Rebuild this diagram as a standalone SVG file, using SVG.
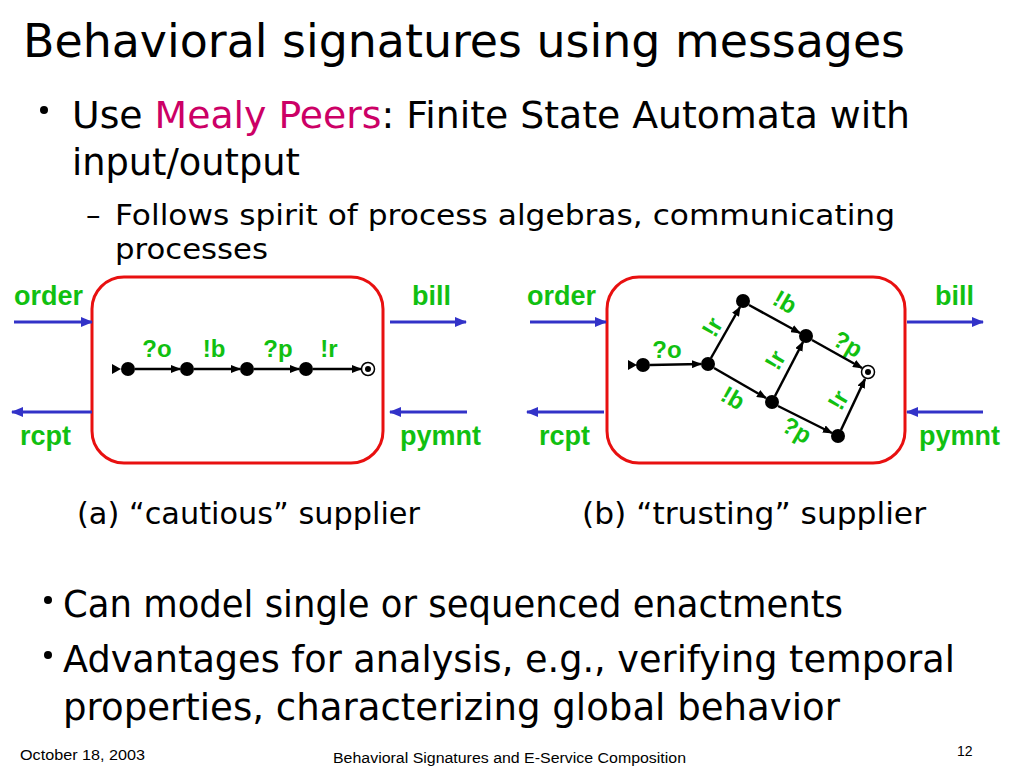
<svg xmlns="http://www.w3.org/2000/svg" width="1024" height="768" viewBox="0 0 1024 768">
<defs>
<style>
.body{font-family:"DejaVu Sans","Noto Sans",sans-serif;fill:#000}
.lbl{font-family:"Liberation Sans",Arial,sans-serif;font-weight:bold;fill:#11c011}
.st{font-family:"Liberation Sans",Arial,sans-serif;font-weight:bold;fill:#11c011;font-size:24px}
.box{fill:#fff;stroke:#e81010;stroke-width:3}
.io{stroke:#3232c8;stroke-width:3;fill:none}
.edge{stroke:#000;stroke-width:2.5;fill:none}
.foot{font-family:"Liberation Sans",Arial,sans-serif;font-size:14px;fill:#000}
</style>
<marker id="ah" markerWidth="10" markerHeight="8" refX="9" refY="4" orient="auto" markerUnits="userSpaceOnUse">
<path d="M0,0 L10,4 L0,8 Z" fill="#000"/>
</marker>
<marker id="bh" markerWidth="12" markerHeight="10" refX="11" refY="5" orient="auto" markerUnits="userSpaceOnUse">
<path d="M0,0 L12,5 L0,10 Z" fill="#3232c8"/>
</marker>
</defs>
<rect width="1024" height="768" fill="#fff"/>

<g id="text">
<text class="body" x="23" y="57" font-size="46" textLength="882" lengthAdjust="spacingAndGlyphs">Behavioral signatures using messages</text>
<circle cx="44" cy="110" r="4" fill="#000"/>
<text class="body" x="72" y="128" font-size="38" textLength="838" lengthAdjust="spacingAndGlyphs">Use <tspan fill="#cc0066">Mealy Peers</tspan>: Finite State Automata with</text>
<text class="body" x="72" y="175" font-size="38" textLength="228" lengthAdjust="spacingAndGlyphs">input/output</text>
<text class="body" x="86" y="225" font-size="29">–</text>
<text class="body" x="115" y="225" font-size="29" textLength="780" lengthAdjust="spacingAndGlyphs">Follows spirit of process algebras, communicating</text>
<text class="body" x="115" y="259" font-size="29" textLength="153" lengthAdjust="spacingAndGlyphs">processes</text>
<text class="body" x="77" y="524" font-size="31" textLength="343" lengthAdjust="spacingAndGlyphs">(a) “cautious” supplier</text>
<text class="body" x="582" y="524" font-size="31" textLength="344" lengthAdjust="spacingAndGlyphs">(b) “trusting” supplier</text>
<circle cx="48" cy="600" r="4" fill="#000"/>
<text class="body" x="63" y="617" font-size="38" textLength="780" lengthAdjust="spacingAndGlyphs">Can model single or sequenced enactments</text>
<circle cx="48" cy="655" r="4" fill="#000"/>
<text class="body" x="63" y="672" font-size="38" textLength="892" lengthAdjust="spacingAndGlyphs">Advantages for analysis, e.g., verifying temporal</text>
<text class="body" x="63" y="720" font-size="38" textLength="777" lengthAdjust="spacingAndGlyphs">properties, characterizing global behavior</text>
<text class="foot" x="20" y="760" textLength="125" lengthAdjust="spacingAndGlyphs">October 18, 2003</text>
<text class="foot" x="333" y="763" font-size="15" textLength="353" lengthAdjust="spacingAndGlyphs">Behavioral Signatures and E-Service Composition</text>
<text class="foot" x="957" y="756">12</text>
</g>

<g id="cautious">
<rect class="box" x="92" y="277" width="291" height="186" rx="32"/>
<text class="lbl" x="14" y="305" font-size="27">order</text>
<text class="lbl" x="412" y="305" font-size="27">bill</text>
<text class="lbl" x="20" y="445" font-size="27">rcpt</text>
<text class="lbl" x="400" y="445" font-size="27">pymnt</text>
<path d="M112,364 L121,369 L112,374 Z" fill="#000"/>
<circle cx="128" cy="369" r="7" fill="#000"/>
<circle cx="187" cy="369" r="7" fill="#000"/>
<circle cx="247" cy="369" r="7" fill="#000"/>
<circle cx="306" cy="369" r="7" fill="#000"/>
<circle cx="368" cy="369" r="6.5" fill="#fff" stroke="#000" stroke-width="1.5"/>
<circle cx="368" cy="369" r="3" fill="#000"/>
<text class="st" x="157" y="357" text-anchor="middle">?o</text>
<text class="st" x="214" y="357" text-anchor="middle">!b</text>
<text class="st" x="278" y="357" text-anchor="middle">?p</text>
<text class="st" x="329" y="357" text-anchor="middle">!r</text>
</g>

<g id="trusting">
<rect class="box" x="607" y="277" width="298" height="186" rx="32"/>
<text class="lbl" x="527" y="305" font-size="27">order</text>
<text class="lbl" x="935" y="305" font-size="27">bill</text>
<text class="lbl" x="539" y="445" font-size="27">rcpt</text>
<text class="lbl" x="919" y="445" font-size="27">pymnt</text>
<path d="M628,360 L637,365 L628,370 Z" fill="#000"/>
<circle cx="643" cy="365" r="7" fill="#000"/>
<circle cx="708" cy="364" r="7" fill="#000"/>
<circle cx="743" cy="301" r="7" fill="#000"/>
<circle cx="806" cy="336" r="7" fill="#000"/>
<circle cx="772" cy="402" r="7" fill="#000"/>
<circle cx="838" cy="436" r="7" fill="#000"/>
<circle cx="868" cy="372" r="6.5" fill="#fff" stroke="#000" stroke-width="1.5"/>
<circle cx="868" cy="372" r="3" fill="#000"/>
<text class="st" x="667" y="358" text-anchor="middle">?o</text>
<text class="st" text-anchor="middle" dy="0.35em" transform="translate(712,327) rotate(-60)">!r</text>
<text class="st" text-anchor="middle" dy="0.35em" transform="translate(785,302) rotate(30)">!b</text>
<text class="st" text-anchor="middle" dy="0.35em" transform="translate(848,344) rotate(30)">?p</text>
<text class="st" text-anchor="middle" dy="0.35em" transform="translate(775,360) rotate(-60)">!r</text>
<text class="st" text-anchor="middle" dy="0.35em" transform="translate(733,398) rotate(30)">!b</text>
<text class="st" text-anchor="middle" dy="0.35em" transform="translate(797,430) rotate(30)">?p</text>
<text class="st" text-anchor="middle" dy="0.35em" transform="translate(838,400) rotate(-60)">!r</text>
</g>

<g id="connectors">
<line class="io" x1="14" y1="322" x2="92" y2="322" marker-end="url(#bh)"/>
<line class="io" x1="390" y1="322" x2="466" y2="322" marker-end="url(#bh)"/>
<line class="io" x1="92" y1="412" x2="12" y2="412" marker-end="url(#bh)"/>
<line class="io" x1="467" y1="412" x2="390" y2="412" marker-end="url(#bh)"/>
<line class="io" x1="530" y1="322" x2="606" y2="322" marker-end="url(#bh)"/>
<line class="io" x1="907" y1="322" x2="983" y2="322" marker-end="url(#bh)"/>
<line class="io" x1="604" y1="412" x2="527" y2="412" marker-end="url(#bh)"/>
<line class="io" x1="983" y1="412" x2="907" y2="412" marker-end="url(#bh)"/>

<line class="edge" x1="135" y1="369" x2="180" y2="369" marker-end="url(#ah)"/>
<line class="edge" x1="194" y1="369" x2="240" y2="369" marker-end="url(#ah)"/>
<line class="edge" x1="254" y1="369" x2="299" y2="369" marker-end="url(#ah)"/>
<line class="edge" x1="313" y1="369" x2="361" y2="369" marker-end="url(#ah)"/>

<line class="edge" x1="650" y1="365" x2="701" y2="364" marker-end="url(#ah)"/>
<line class="edge" x1="711" y1="358" x2="740" y2="307" marker-end="url(#ah)"/>
<line class="edge" x1="749" y1="305" x2="800" y2="333" marker-end="url(#ah)"/>
<line class="edge" x1="812" y1="340" x2="862" y2="368" marker-end="url(#ah)"/>
<line class="edge" x1="714" y1="368" x2="766" y2="398" marker-end="url(#ah)"/>
<line class="edge" x1="775" y1="396" x2="803" y2="342" marker-end="url(#ah)"/>
<line class="edge" x1="778" y1="406" x2="832" y2="433" marker-end="url(#ah)"/>
<line class="edge" x1="841" y1="430" x2="865" y2="379" marker-end="url(#ah)"/>
</g>
</svg>
